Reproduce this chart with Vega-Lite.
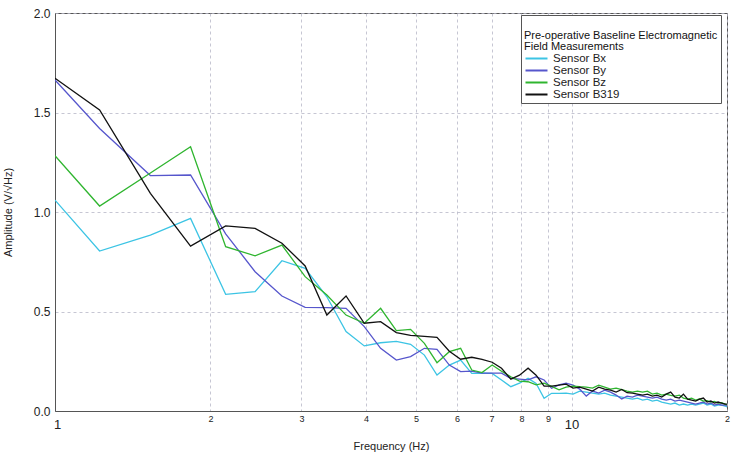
{
  "$schema": "https://vega.github.io/schema/vega-lite/v6.json",
  "width": 672,
  "height": 398,
  "autosize": {"type": "none"},
  "padding": {"left": 55, "top": 13, "right": 23, "bottom": 41},
  "background": "white",
  "config": {
    "font": "Liberation Sans",
    "view": {"stroke": "#555", "strokeWidth": 1},
    "axis": {
      "gridColor": "#b8b8c8",
      "gridDash": [3, 3],
      "gridWidth": 0.8,
      "domainColor": "#555",
      "labelColor": "#222",
      "titleColor": "#222",
      "titleFontWeight": "normal",
      "titleFontSize": 11
    },
    "legend": {
      "titleFontWeight": "normal",
      "titleFontSize": 11,
      "titleColor": "#111",
      "titleLimit": 400,
      "titleLineHeight": 11.5,
      "labelFontSize": 11.5,
      "labelColor": "#222"
    }
  },
  "data": {
    "values": [
      {"f": 1.00, "Sensor Bx": 1.06, "Sensor By": 1.663, "Sensor Bz": 1.283, "Sensor B319": 1.672},
      {"f": 1.22, "Sensor Bx": 0.804, "Sensor By": 1.42, "Sensor Bz": 1.03, "Sensor B319": 1.513},
      {"f": 1.53, "Sensor Bx": 0.884, "Sensor By": 1.183, "Sensor Bz": 1.196, "Sensor B319": 1.094},
      {"f": 1.83, "Sensor Bx": 0.968, "Sensor By": 1.186, "Sensor Bz": 1.328, "Sensor B319": 0.829},
      {"f": 2.14, "Sensor Bx": 0.586, "Sensor By": 0.89, "Sensor Bz": 0.826, "Sensor B319": 0.93},
      {"f": 2.44, "Sensor Bx": 0.60, "Sensor By": 0.70, "Sensor Bz": 0.78, "Sensor B319": 0.918},
      {"f": 2.75, "Sensor Bx": 0.755, "Sensor By": 0.578, "Sensor Bz": 0.834, "Sensor B319": 0.843},
      {"f": 3.05, "Sensor Bx": 0.717, "Sensor By": 0.521, "Sensor Bz": 0.675, "Sensor B319": 0.729},
      {"f": 3.36, "Sensor Bx": 0.574, "Sensor By": 0.519, "Sensor Bz": 0.583, "Sensor B319": 0.482},
      {"f": 3.66, "Sensor Bx": 0.399, "Sensor By": 0.516, "Sensor Bz": 0.482, "Sensor B319": 0.578},
      {"f": 3.97, "Sensor Bx": 0.327, "Sensor By": 0.424, "Sensor Bz": 0.441, "Sensor B319": 0.441},
      {"f": 4.27, "Sensor Bx": 0.343, "Sensor By": 0.315, "Sensor Bz": 0.516, "Sensor B319": 0.449},
      {"f": 4.58, "Sensor Bx": 0.350, "Sensor By": 0.256, "Sensor Bz": 0.404, "Sensor B319": 0.394},
      {"f": 4.88, "Sensor Bx": 0.335, "Sensor By": 0.273, "Sensor Bz": 0.41, "Sensor B319": 0.38},
      {"f": 5.19, "Sensor Bx": 0.281, "Sensor By": 0.315, "Sensor Bz": 0.34, "Sensor B319": 0.375},
      {"f": 5.49, "Sensor Bx": 0.181, "Sensor By": 0.31, "Sensor Bz": 0.243, "Sensor B319": 0.37},
      {"f": 5.80, "Sensor Bx": 0.231, "Sensor By": 0.231, "Sensor Bz": 0.298, "Sensor B319": 0.30},
      {"f": 6.10, "Sensor Bx": 0.256, "Sensor By": 0.198, "Sensor Bz": 0.315, "Sensor B319": 0.26},
      {"f": 6.41, "Sensor Bx": 0.189, "Sensor By": 0.20, "Sensor Bz": 0.206, "Sensor B319": 0.27},
      {"f": 6.71, "Sensor Bx": 0.19, "Sensor By": 0.19, "Sensor Bz": 0.193, "Sensor B319": 0.26},
      {"f": 7.02, "Sensor Bx": 0.189, "Sensor By": 0.19, "Sensor Bz": 0.231, "Sensor B319": 0.245},
      {"f": 7.32, "Sensor Bx": 0.156, "Sensor By": 0.19, "Sensor Bz": 0.20, "Sensor B319": 0.215},
      {"f": 7.63, "Sensor Bx": 0.122, "Sensor By": 0.164, "Sensor Bz": 0.172, "Sensor B319": 0.16},
      {"f": 7.93, "Sensor Bx": 0.14, "Sensor By": 0.16, "Sensor Bz": 0.15, "Sensor B319": 0.18},
      {"f": 8.24, "Sensor Bx": 0.164, "Sensor By": 0.156, "Sensor Bz": 0.147, "Sensor B319": 0.215},
      {"f": 8.54, "Sensor Bx": 0.139, "Sensor By": 0.172, "Sensor Bz": 0.131, "Sensor B319": 0.18},
      {"f": 8.85, "Sensor Bx": 0.064, "Sensor By": 0.156, "Sensor Bz": 0.14, "Sensor B319": 0.125},
      {"f": 9.15, "Sensor Bx": 0.089, "Sensor By": 0.114, "Sensor Bz": 0.124, "Sensor B319": 0.125},
      {"f": 9.46, "Sensor Bx": 0.089, "Sensor By": 0.131, "Sensor Bz": 0.106, "Sensor B319": 0.13},
      {"f": 9.76, "Sensor Bx": 0.09, "Sensor By": 0.14, "Sensor Bz": 0.12, "Sensor B319": 0.135},
      {"f": 10.07, "Sensor Bx": 0.085, "Sensor By": 0.13, "Sensor Bz": 0.125, "Sensor B319": 0.115},
      {"f": 10.37, "Sensor Bx": 0.10, "Sensor By": 0.11, "Sensor Bz": 0.122, "Sensor B319": 0.12},
      {"f": 10.68, "Sensor Bx": 0.095, "Sensor By": 0.075, "Sensor Bz": 0.12, "Sensor B319": 0.11},
      {"f": 10.98, "Sensor Bx": 0.09, "Sensor By": 0.10, "Sensor Bz": 0.115, "Sensor B319": 0.10},
      {"f": 11.29, "Sensor Bx": 0.085, "Sensor By": 0.09, "Sensor Bz": 0.13, "Sensor B319": 0.12},
      {"f": 11.59, "Sensor Bx": 0.09, "Sensor By": 0.105, "Sensor Bz": 0.12, "Sensor B319": 0.11},
      {"f": 11.90, "Sensor Bx": 0.08, "Sensor By": 0.095, "Sensor Bz": 0.11, "Sensor B319": 0.105},
      {"f": 12.20, "Sensor Bx": 0.075, "Sensor By": 0.08, "Sensor Bz": 0.115, "Sensor B319": 0.095},
      {"f": 12.51, "Sensor Bx": 0.07, "Sensor By": 0.06, "Sensor Bz": 0.108, "Sensor B319": 0.108},
      {"f": 12.81, "Sensor Bx": 0.065, "Sensor By": 0.075, "Sensor Bz": 0.10, "Sensor B319": 0.092},
      {"f": 13.12, "Sensor Bx": 0.06, "Sensor By": 0.07, "Sensor Bz": 0.095, "Sensor B319": 0.09},
      {"f": 13.42, "Sensor Bx": 0.065, "Sensor By": 0.08, "Sensor Bz": 0.10, "Sensor B319": 0.085},
      {"f": 13.73, "Sensor Bx": 0.055, "Sensor By": 0.075, "Sensor Bz": 0.095, "Sensor B319": 0.08},
      {"f": 14.03, "Sensor Bx": 0.06, "Sensor By": 0.07, "Sensor Bz": 0.10, "Sensor B319": 0.085},
      {"f": 14.34, "Sensor Bx": 0.05, "Sensor By": 0.065, "Sensor Bz": 0.085, "Sensor B319": 0.075},
      {"f": 14.64, "Sensor Bx": 0.055, "Sensor By": 0.07, "Sensor Bz": 0.09, "Sensor B319": 0.08},
      {"f": 14.95, "Sensor Bx": 0.045, "Sensor By": 0.06, "Sensor Bz": 0.08, "Sensor B319": 0.07},
      {"f": 15.25, "Sensor Bx": 0.04, "Sensor By": 0.055, "Sensor Bz": 0.085, "Sensor B319": 0.085},
      {"f": 15.56, "Sensor Bx": 0.035, "Sensor By": 0.06, "Sensor Bz": 0.078, "Sensor B319": 0.095},
      {"f": 15.86, "Sensor Bx": 0.04, "Sensor By": 0.05, "Sensor Bz": 0.075, "Sensor B319": 0.07},
      {"f": 16.17, "Sensor Bx": 0.03, "Sensor By": 0.055, "Sensor Bz": 0.08, "Sensor B319": 0.065},
      {"f": 16.47, "Sensor Bx": 0.035, "Sensor By": 0.05, "Sensor Bz": 0.065, "Sensor B319": 0.085},
      {"f": 16.78, "Sensor Bx": 0.03, "Sensor By": 0.045, "Sensor Bz": 0.06, "Sensor B319": 0.06},
      {"f": 17.08, "Sensor Bx": 0.035, "Sensor By": 0.04, "Sensor Bz": 0.065, "Sensor B319": 0.055},
      {"f": 17.39, "Sensor Bx": 0.03, "Sensor By": 0.035, "Sensor Bz": 0.055, "Sensor B319": 0.05},
      {"f": 17.69, "Sensor Bx": 0.035, "Sensor By": 0.04, "Sensor Bz": 0.06, "Sensor B319": 0.06},
      {"f": 18.00, "Sensor Bx": 0.04, "Sensor By": 0.045, "Sensor Bz": 0.05, "Sensor B319": 0.065},
      {"f": 18.30, "Sensor Bx": 0.03, "Sensor By": 0.035, "Sensor Bz": 0.052, "Sensor B319": 0.045},
      {"f": 18.61, "Sensor Bx": 0.035, "Sensor By": 0.04, "Sensor Bz": 0.045, "Sensor B319": 0.05},
      {"f": 18.91, "Sensor Bx": 0.025, "Sensor By": 0.03, "Sensor Bz": 0.048, "Sensor B319": 0.04},
      {"f": 19.22, "Sensor Bx": 0.03, "Sensor By": 0.035, "Sensor Bz": 0.04, "Sensor B319": 0.045},
      {"f": 19.52, "Sensor Bx": 0.03, "Sensor By": 0.03, "Sensor Bz": 0.042, "Sensor B319": 0.04},
      {"f": 19.83, "Sensor Bx": 0.025, "Sensor By": 0.03, "Sensor Bz": 0.035, "Sensor B319": 0.035},
      {"f": 20.00, "Sensor Bx": 0.02, "Sensor By": 0.025, "Sensor Bz": 0.03, "Sensor B319": 0.035}
    ]
  },
  "transform": [
    {"fold": ["Sensor Bx", "Sensor By", "Sensor Bz", "Sensor B319"], "as": ["sensor", "amp"]}
  ],
  "mark": {"type": "line", "strokeWidth": 1.3, "clip": true},
  "encoding": {
    "x": {
      "field": "f",
      "type": "quantitative",
      "scale": {"type": "log", "domain": [1, 20]},
      "axis": {
        "title": "Frequency (Hz)",
        "titleY": 35,
        "titleBaseline": "middle",
        "values": [1, 2, 3, 4, 5, 6, 7, 8, 9, 10, 20],
        "labelExpr": "datum.value == 20 ? '2' : format(datum.value, 'd')",
        "labelFlush": false,
        "ticks": false,
        "labelFontSize": {"condition": {"test": "datum.value == 1 || datum.value == 10", "value": 13}, "value": 9},
        "labelPadding": {"condition": {"test": "datum.value == 1 || datum.value == 10", "value": 7}, "value": 3},
        "labelOffset": {"condition": {"test": "datum.value == 1", "value": 2}, "value": 0}
      }
    },
    "y": {
      "field": "amp",
      "type": "quantitative",
      "scale": {"domain": [0, 2]},
      "axis": {
        "title": "Amplitude (V/√Hz)",
        "titleX": -42,
        "values": [0, 0.5, 1, 1.5, 2],
        "format": ".1f",
        "labelFontSize": 12,
        "ticks": false,
        "labelPadding": 5
      }
    },
    "color": {
      "field": "sensor",
      "type": "nominal",
      "sort": ["Sensor Bx", "Sensor By", "Sensor Bz", "Sensor B319"],
      "scale": {
        "domain": ["Sensor Bx", "Sensor By", "Sensor Bz", "Sensor B319"],
        "range": ["#3cc4e4", "#5656cc", "#2fb52f", "#111111"]
      },
      "legend": {
        "title": ["", "Pre-operative Baseline Electromagnetic", "Field Measurements"],
        "orient": "none",
        "legendX": 466,
        "legendY": 2,
        "symbolType": "M-2,0H2",
        "symbolSize": 121,
        "symbolStrokeWidth": 2,
        "symbolOffset": 6,
        "strokeColor": "#555",
        "fillColor": "white",
        "padding": 3,
        "rowPadding": 0,
        "labelOffset": 10,
        "titlePadding": 0
      }
    }
  }
}
